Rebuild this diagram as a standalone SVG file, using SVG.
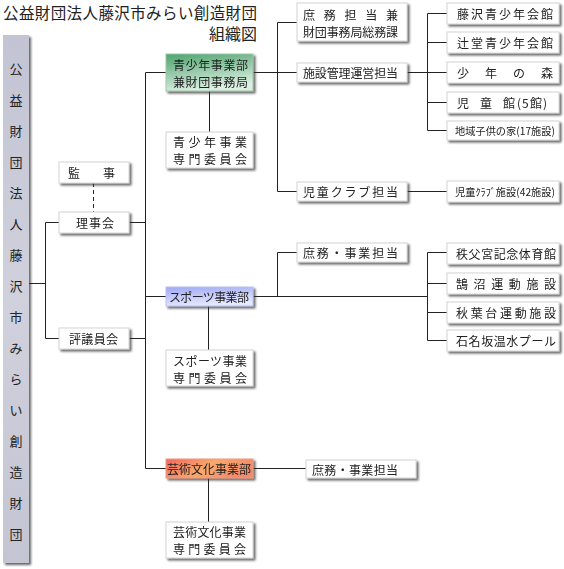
<svg xmlns="http://www.w3.org/2000/svg" width="564" height="569" viewBox="0 0 564 569">
<defs>
<filter id="sh" x="-10%" y="-20%" width="130%" height="160%">
<feDropShadow dx="2" dy="2" stdDeviation="0.8" flood-color="#333" flood-opacity="0.75"/>
</filter>
<linearGradient id="gGreen" x1="0" y1="0" x2="0.3" y2="1">
<stop offset="0" stop-color="#4da36d"/><stop offset="1" stop-color="#dcefe2"/>
</linearGradient>
<linearGradient id="gBlue" x1="0" y1="0" x2="0.3" y2="1">
<stop offset="0" stop-color="#9ea8f4"/><stop offset="1" stop-color="#e6e9ff"/>
</linearGradient>
<linearGradient id="gRed" x1="0" y1="0" x2="1" y2="0.3">
<stop offset="0" stop-color="#f2675f"/><stop offset="0.55" stop-color="#f9a96c"/><stop offset="1" stop-color="#f48a6a"/>
</linearGradient>
<linearGradient id="gBar" x1="0" y1="0" x2="0" y2="1">
<stop offset="0" stop-color="#c2c4d4"/><stop offset="0.5" stop-color="#d0d1dc"/><stop offset="1" stop-color="#c4c5d3"/>
</linearGradient>
</defs>
<style>
text{font-family:"Noto Sans CJK JP","Noto Sans CJK SC",sans-serif;fill:#222;dominant-baseline:central}
.t{font-size:12px}
.s{font-size:10.5px}
.b{fill:#fff;stroke:#d4d4d4;stroke-width:1}
.n{filter:url(#sh)}
.c path{stroke:#222;stroke-width:1;fill:none}
</style>

<g id="title">
<text x="3" y="11.5" style="font-size:15.5px" textLength="254" lengthAdjust="spacing">公益財団法人藤沢市みらい創造財団</text>
<text x="257" y="33" style="font-size:16px" text-anchor="end">組織図</text>
</g>

<g id="root">
<rect x="3" y="35" width="26" height="528" fill="url(#gBar)" class="n"/>
<g style="font-size:13px" text-anchor="middle">
<text x="16" y="68">公</text><text x="16" y="99">益</text><text x="16" y="130">財</text><text x="16" y="161">団</text>
<text x="16" y="192">法</text><text x="16" y="223">人</text><text x="16" y="254">藤</text><text x="16" y="285">沢</text>
<text x="16" y="316">市</text><text x="16" y="347">み</text><text x="16" y="378">ら</text><text x="16" y="409">い</text>
<text x="16" y="440">創</text><text x="16" y="471">造</text><text x="16" y="502">財</text><text x="16" y="533">団</text>
</g>
</g>

<g class="c" id="connectors">
<path d="M29,283.5 H45.5 M45.5,222.5 V338.5 M45.5,222.5 H59 M45.5,338.5 H59"/>
<path d="M93.5,183 V212" stroke-dasharray="4,3"/>
<path d="M129,222.5 H145.5 M129,338.5 H145.5 M145.5,72.5 V468.5 M145.5,72.5 H166 M145.5,296.5 H166 M145.5,468.5 H166"/>
<path d="M253,72.5 H297 M277.5,22.5 V191.5 M277.5,22.5 H297 M277.5,191.5 H297"/>
<path d="M407,72.5 H447 M427.5,13.5 V130.5 M427.5,13.5 H447 M427.5,42.5 H447 M427.5,102.5 H447 M427.5,130.5 H447"/>
<path d="M407,191.5 H447"/>
<path d="M209.5,91 V132"/>
<path d="M277.5,252.5 V296.5 M277.5,252.5 H297 M253,296.5 H427.5 M427.5,252.5 V340.5 M427.5,252.5 H447 M427.5,283.5 H447 M427.5,312.5 H447 M427.5,340.5 H447"/>
<path d="M208.5,306 V350"/>
<path d="M253,468.5 H306 M208.5,478 V522"/>
</g>

<g id="kanji" class="n"><rect class="b" x="59" y="162" width="70" height="21"/><text class="t" x="68" y="172.5" textLength="47" lengthAdjust="spacing">監事</text></g>
<g id="rijikai" class="n"><rect class="b" x="59" y="212" width="70" height="21"/><text class="t" x="76" y="222.5" textLength="38" lengthAdjust="spacing">理事会</text></g>
<g id="hyogiinkai" class="n"><rect class="b" x="59" y="328" width="70" height="21"/><text class="t" x="69" y="338.5" textLength="49" lengthAdjust="spacing">評議員会</text></g>

<g id="seishonen" class="n"><rect x="166" y="54" width="87" height="37" fill="url(#gGreen)" stroke="#9cc9a9"/>
<text class="t" x="173" y="64" textLength="75" lengthAdjust="spacing">青少年事業部</text>
<text class="t" x="173" y="81" textLength="75" lengthAdjust="spacing">兼財団事務局</text></g>
<g id="seishonen-iin" class="n"><rect class="b" x="166" y="132" width="87" height="36"/>
<text class="t" x="173" y="141" textLength="74" lengthAdjust="spacing">青少年事業</text>
<text class="t" x="173" y="158" textLength="74" lengthAdjust="spacing">専門委員会</text></g>

<g id="sports" class="n"><rect x="166" y="287" width="87" height="19" fill="url(#gBlue)" stroke="#b9c0f0"/>
<text class="t" x="169" y="296.5" textLength="80" lengthAdjust="spacing">スポーツ事業部</text></g>
<g id="sports-iin" class="n"><rect class="b" x="166" y="350" width="87" height="36"/>
<text class="t" x="173" y="360" textLength="74" lengthAdjust="spacing">スポーツ事業</text>
<text class="t" x="173" y="377" textLength="74" lengthAdjust="spacing">専門委員会</text></g>

<g id="geijutsu" class="n"><rect x="166" y="459" width="87" height="19" fill="url(#gRed)" stroke="#f09a80"/>
<text class="t" x="167" y="468.5" textLength="84" lengthAdjust="spacing">芸術文化事業部</text></g>
<g id="geijutsu-iin" class="n"><rect class="b" x="166" y="522" width="87" height="36"/>
<text class="t" x="173" y="531" textLength="73" lengthAdjust="spacing">芸術文化事業</text>
<text class="t" x="173" y="548" textLength="73" lengthAdjust="spacing">専門委員会</text></g>

<g id="shomu1" class="n"><rect class="b" x="297" y="3" width="110" height="38"/>
<text class="t" x="303" y="14" textLength="95" lengthAdjust="spacing">庶務担当兼</text>
<text class="t" x="303" y="31" textLength="95" lengthAdjust="spacing">財団事務局総務課</text></g>
<g id="shisetsu" class="n"><rect class="b" x="297" y="63" width="110" height="19"/>
<text class="t" x="303" y="72.5" textLength="95" lengthAdjust="spacing">施設管理運営担当</text></g>
<g id="jidoclub" class="n"><rect class="b" x="297" y="182" width="110" height="19"/>
<text class="t" x="303" y="191.5" textLength="95" lengthAdjust="spacing">児童クラブ担当</text></g>
<g id="shomu2" class="n"><rect class="b" x="297" y="243" width="110" height="19"/>
<text class="t" x="303" y="252.5" textLength="95" lengthAdjust="spacing">庶務・事業担当</text></g>
<g id="shomu3" class="n"><rect class="b" x="306" y="460" width="110" height="18"/>
<text class="t" x="312" y="469" textLength="86" lengthAdjust="spacing">庶務・事業担当</text></g>

<g id="fujisawa" class="n"><rect class="b" x="447" y="3" width="112" height="21"/>
<text class="t" x="457" y="13.5" textLength="96" lengthAdjust="spacing">藤沢青少年会館</text></g>
<g id="tsujido" class="n"><rect class="b" x="447" y="32" width="112" height="21"/>
<text class="t" x="457" y="42.5" textLength="96" lengthAdjust="spacing">辻堂青少年会館</text></g>
<g id="mori" class="n"><rect class="b" x="447" y="62" width="112" height="21"/>
<text class="t" x="457" y="72.5" textLength="96" lengthAdjust="spacing">少年の森</text></g>
<g id="jidokan" class="n"><rect class="b" x="447" y="92" width="112" height="21"/>
<text class="t" x="457 480 503 517 522 530 543" y="102.5">児童館(5館)</text></g>
<g id="kodomo" class="n"><rect class="b" x="447" y="121" width="112" height="19"/>
<text class="s" x="455" y="130.5" textLength="100" lengthAdjust="spacingAndGlyphs">地域子供の家(17施設)</text></g>
<g id="clubshisetsu" class="n"><rect class="b" x="447" y="181" width="112" height="21"/>
<text class="s" x="455" y="191.5" textLength="100" lengthAdjust="spacingAndGlyphs">児童ｸﾗﾌﾞ施設(42施設)</text></g>

<g id="chichibu" class="n"><rect class="b" x="447" y="243" width="112" height="21"/>
<text class="t" x="456" y="253.5" textLength="100" lengthAdjust="spacing">秩父宮記念体育館</text></g>
<g id="kugenuma" class="n"><rect class="b" x="447" y="273" width="112" height="21"/>
<text class="t" x="456" y="283.5" textLength="100" lengthAdjust="spacing">鵠沼運動施設</text></g>
<g id="akibadai" class="n"><rect class="b" x="447" y="302" width="112" height="21"/>
<text class="t" x="456" y="312.5" textLength="100" lengthAdjust="spacing">秋葉台運動施設</text></g>
<g id="ishinazaka" class="n"><rect class="b" x="447" y="330" width="112" height="21"/>
<text class="t" x="456" y="340.5" textLength="100" lengthAdjust="spacing">石名坂温水プール</text></g>
</svg>
